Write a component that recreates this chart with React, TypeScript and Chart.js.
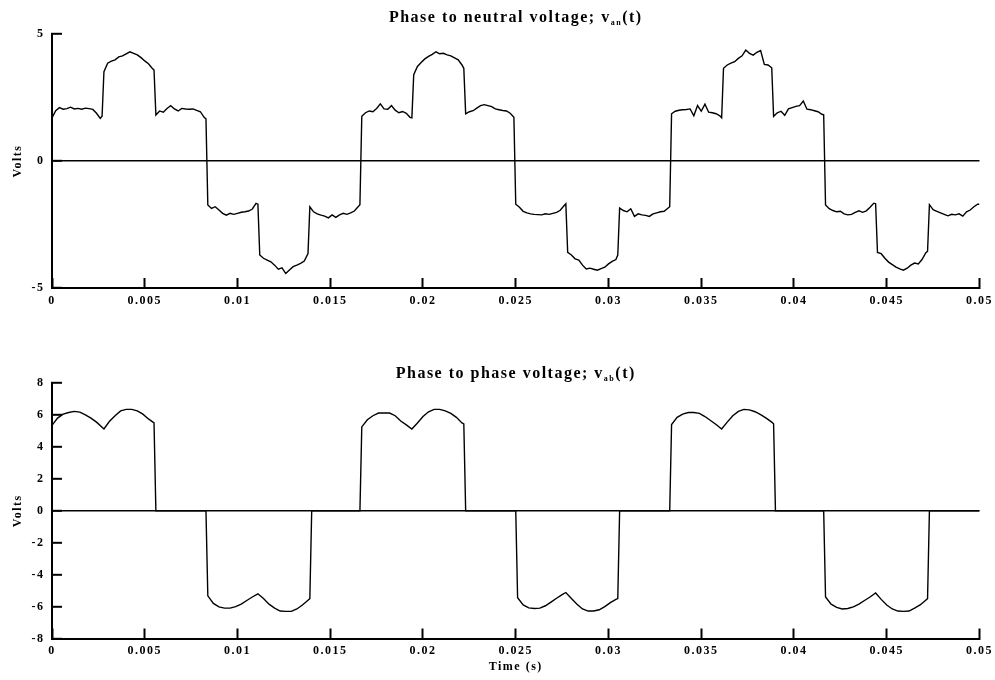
import React, { useEffect, useRef } from 'react';
import { Chart, registerables } from 'chart.js';

Chart.register(...registerables);

// ---------- tick values & labels ----------
const xTickValues = [0, 0.005, 0.01, 0.015, 0.02, 0.025, 0.03, 0.035, 0.04, 0.045, 0.05];
const xTickLabels = ['0', '0.005', '0.01', '0.015', '0.02', '0.025', '0.03', '0.035', '0.04', '0.045', '0.05'];
const vanTickValues = [-5, 0, 5];
const vanTickLabels = ['-5', '0', '5'];
const vabTickValues = [-8, -6, -4, -2, 0, 2, 4, 6, 8];
const vabTickLabels = ['-8', '-6', '-4', '-2', '0', '2', '4', '6', '8'];

// ---------- texts ----------
const vanTitle = { main: 'Phase to neutral voltage; v', sub: 'an', tail: '(t)' };
const vabTitle = { main: 'Phase to phase voltage; v', sub: 'ab', tail: '(t)' };
const yAxisTitle = 'Volts';
const xAxisTitle = 'Time (s)';

// ---------- phase to neutral voltage v_an(t) ----------
const vanTime = [
  0, 0.0002, 0.0004, 0.0006, 0.0008, 0.001, 0.0012, 0.0014, 0.0016, 0.0018, 0.002, 0.0022, 0.0024, 0.0026, 0.0027,
  0.0028, 0.003, 0.0032, 0.0034, 0.0036, 0.0038, 0.004, 0.0042, 0.0044, 0.0046, 0.0048, 0.005, 0.0052, 0.0054, 0.0055,
  0.0056, 0.0058, 0.006, 0.0062, 0.0064, 0.0066, 0.0068, 0.007, 0.0072, 0.0074, 0.0076, 0.0078, 0.008, 0.0082, 0.0083,
  0.0084, 0.0086, 0.0088, 0.009, 0.0092, 0.0094, 0.0096, 0.0098, 0.01, 0.0102, 0.0104, 0.0106, 0.0108, 0.011, 0.0111,
  0.0112, 0.0114, 0.0116, 0.0118, 0.012, 0.0122, 0.0124, 0.0126, 0.0128, 0.013, 0.0132, 0.0134, 0.0136, 0.0138,
  0.0139, 0.0141, 0.0143, 0.0145, 0.0147, 0.0149, 0.0151, 0.0153, 0.0155, 0.0157, 0.0159, 0.0161, 0.0163, 0.0165, 0.0166,
  0.0167, 0.0169, 0.0171, 0.0173, 0.0175, 0.0177, 0.0179, 0.0181, 0.0183, 0.0185, 0.0187, 0.0189, 0.0191, 0.0193, 0.0194,
  0.0195, 0.0197, 0.0199, 0.0201, 0.0203, 0.0205, 0.0207, 0.0209, 0.0211, 0.0213, 0.0215, 0.0217, 0.0219, 0.0221, 0.0222,
  0.0223, 0.0225, 0.0227, 0.0229, 0.0231, 0.0233, 0.0235, 0.0237, 0.0239, 0.0241, 0.0243, 0.0245, 0.0247, 0.0249,
  0.025, 0.0252, 0.0254, 0.0256, 0.0258, 0.026, 0.0262, 0.0264, 0.0266, 0.0268, 0.027, 0.0272, 0.0274, 0.0276, 0.0277,
  0.0278, 0.028, 0.0282, 0.0284, 0.0286, 0.0288, 0.029, 0.0292, 0.0294, 0.0296, 0.0298, 0.03, 0.0302, 0.0304, 0.0305,
  0.0306, 0.0308, 0.031, 0.0312, 0.0314, 0.0316, 0.0318, 0.032, 0.0322, 0.0324, 0.0326, 0.0328, 0.033, 0.0332, 0.0333,
  0.0334, 0.0336, 0.0338, 0.034, 0.0342, 0.0344, 0.0346, 0.0348, 0.035, 0.0352, 0.0354, 0.0356, 0.0358, 0.036, 0.0361,
  0.0362, 0.0364, 0.0366, 0.0368, 0.037, 0.0372, 0.0374, 0.0376, 0.0378, 0.038, 0.0382, 0.0384, 0.0386, 0.0388,
  0.0389, 0.0391, 0.0393, 0.0395, 0.0397, 0.0399, 0.0401, 0.0403, 0.0405, 0.0407, 0.0409, 0.0411, 0.0413, 0.0415, 0.0416,
  0.0417, 0.0419, 0.0421, 0.0423, 0.0425, 0.0427, 0.0429, 0.0431, 0.0433, 0.0435, 0.0437, 0.0439, 0.0441, 0.0443, 0.0444,
  0.0445, 0.0447, 0.0449, 0.0451, 0.0453, 0.0455, 0.0457, 0.0459, 0.0461, 0.0463, 0.0465, 0.0467, 0.0469, 0.0471, 0.0472,
  0.0473, 0.0475, 0.0477, 0.0479, 0.0481, 0.0483, 0.0485, 0.0487, 0.0489, 0.0491, 0.0493, 0.0495, 0.0497, 0.0499, 0.05,
];
const vanVolts = [
  1.70, 1.98, 2.10, 2.04, 2.06, 2.12, 2.05, 2.07, 2.04, 2.08, 2.06, 2.03, 1.88, 1.68, 1.76,
  3.52, 3.85, 3.93, 3.98, 4.10, 4.14, 4.22, 4.30, 4.24, 4.18, 4.07, 3.94, 3.83, 3.65, 3.58,
  1.81, 1.97, 1.92, 2.07, 2.18, 2.05, 1.97, 2.07, 2.05, 2.04, 2.05, 1.99, 1.94, 1.72, 1.66,
  -1.73, -1.87, -1.80, -1.93, -2.06, -2.13, -2.06, -2.10, -2.06, -2.02, -2.00, -1.97, -1.89, -1.67, -1.70,
  -3.70, -3.83, -3.90, -3.97, -4.10, -4.26, -4.21, -4.43, -4.29, -4.16, -4.10, -4.03, -3.94, -3.64,
  -1.80, -2.00, -2.08, -2.13, -2.17, -2.24, -2.12, -2.22, -2.12, -2.06, -2.10, -2.04, -1.97, -1.80, -1.72,
  1.76, 1.90, 1.97, 1.94, 2.07, 2.25, 2.05, 2.04, 2.18, 2.00, 1.90, 1.95, 1.88, 1.72, 1.70,
  3.40, 3.72, 3.88, 4.02, 4.12, 4.20, 4.30, 4.22, 4.24, 4.18, 4.14, 4.06, 3.98, 3.78, 3.65,
  1.86, 1.94, 1.98, 2.08, 2.18, 2.22, 2.18, 2.14, 2.05, 2.02, 1.99, 1.97, 1.88, 1.72,
  -1.70, -1.82, -1.98, -2.04, -2.08, -2.10, -2.11, -2.12, -2.08, -2.10, -2.06, -2.02, -1.94, -1.76, -1.68,
  -3.60, -3.70, -3.85, -3.90, -4.10, -4.25, -4.22, -4.26, -4.30, -4.24, -4.18, -4.05, -3.95, -3.88, -3.70,
  -1.85, -1.95, -2.00, -1.88, -2.18, -2.08, -2.12, -2.14, -2.18, -2.08, -2.04, -2.00, -1.98, -1.86, -1.80,
  1.86, 1.96, 2.00, 2.02, 2.03, 2.05, 1.78, 2.18, 1.96, 2.24, 1.92, 1.90, 1.86, 1.78, 1.70,
  3.65, 3.78, 3.85, 3.91, 4.04, 4.14, 4.37, 4.24, 4.17, 4.28, 4.35, 3.80, 3.78, 3.67,
  1.76, 1.90, 1.96, 1.80, 2.05, 2.10, 2.15, 2.18, 2.36, 2.04, 2.02, 1.98, 1.94, 1.84, 1.82,
  -1.73, -1.88, -1.95, -2.00, -1.98, -2.08, -2.12, -2.10, -2.02, -1.96, -2.02, -1.96, -1.82, -1.66, -1.68,
  -3.60, -3.65, -3.83, -3.98, -4.08, -4.18, -4.25, -4.30, -4.22, -4.10, -4.02, -4.05, -3.88, -3.62, -3.55,
  -1.72, -1.92, -1.98, -2.04, -2.10, -2.16, -2.10, -2.12, -2.08, -2.17, -2.00, -1.93, -1.80, -1.70, -1.70,
];

// ---------- phase to phase voltage v_ab(t) ----------
const vabTime = [
  0, 0.0003, 0.0006, 0.0009, 0.0012, 0.0015, 0.0018, 0.0021, 0.0024, 0.0028, 0.0031, 0.0034, 0.0037, 0.004, 0.0043, 0.0046, 0.0049, 0.0052, 0.0055, 0.0056,
  0.0083, 0.0084, 0.0087, 0.009, 0.0093, 0.0096, 0.0099, 0.0102, 0.0105, 0.0108, 0.0111, 0.0114, 0.0117, 0.012, 0.0123, 0.0126, 0.0129, 0.0132, 0.0135, 0.0138, 0.0139, 0.014,
  0.0166, 0.0167, 0.017, 0.0173, 0.0176, 0.0179, 0.0182, 0.0185, 0.0188, 0.0191, 0.0194, 0.0197, 0.02, 0.0203, 0.0206, 0.0209, 0.0212, 0.0215, 0.0218, 0.0221, 0.0222, 0.0223,
  0.025, 0.0251, 0.0254, 0.0257, 0.026, 0.0263, 0.0266, 0.0269, 0.0272, 0.0275, 0.0277, 0.028, 0.0283, 0.0286, 0.0289, 0.0292, 0.0295, 0.0298, 0.0301, 0.0304, 0.0305, 0.0306,
  0.0333, 0.0334, 0.0337, 0.034, 0.0343, 0.0346, 0.0349, 0.0352, 0.0355, 0.0358, 0.0361, 0.0364, 0.0367, 0.037, 0.0373, 0.0376, 0.0379, 0.0382, 0.0385, 0.0388, 0.0389, 0.039,
  0.0416, 0.0417, 0.042, 0.0423, 0.0426, 0.0429, 0.0432, 0.0435, 0.0438, 0.0441, 0.0444, 0.0447, 0.045, 0.0453, 0.0456, 0.0459, 0.0462, 0.0465, 0.0468, 0.0471, 0.0472, 0.0473,
  0.05,
];
const vabVolts = [
  5.35, 5.80, 6.05, 6.15, 6.22, 6.18, 6.00, 5.80, 5.55, 5.12, 5.60, 5.95, 6.25, 6.35, 6.35, 6.25, 6.05, 5.75, 5.50, 0,
  0, -5.33, -5.80, -6.02, -6.10, -6.10, -6.00, -5.85, -5.62, -5.40, -5.20, -5.50, -5.85, -6.10, -6.28, -6.30, -6.30, -6.15, -5.90, -5.60, -5.50, 0,
  0, 5.25, 5.70, 5.95, 6.12, 6.12, 6.12, 5.95, 5.62, 5.38, 5.12, 5.50, 5.90, 6.20, 6.35, 6.35, 6.25, 6.10, 5.85, 5.50, 5.44, 0,
  0, -5.45, -5.90, -6.08, -6.12, -6.10, -5.95, -5.72, -5.48, -5.25, -5.12, -5.50, -5.85, -6.15, -6.28, -6.28, -6.20, -6.00, -5.75, -5.55, -5.50, 0,
  0, 5.40, 5.85, 6.05, 6.15, 6.15, 6.10, 5.90, 5.65, 5.40, 5.12, 5.55, 5.95, 6.22, 6.35, 6.32, 6.20, 6.02, 5.80, 5.55, 5.45, 0,
  0, -5.40, -5.85, -6.05, -6.15, -6.12, -6.02, -5.85, -5.62, -5.40, -5.15, -5.55, -5.90, -6.15, -6.28, -6.30, -6.28, -6.10, -5.90, -5.60, -5.50, 0,
  0,
];

// ---------- styling ----------
const FONT_FAMILY = '"Liberation Serif", "Times New Roman", serif';
const LETTER_SPACING = '1.5px';
const axisFont = { family: FONT_FAMILY, size: 12, weight: 'bold' as const };

const letterSpacingPlugin = {
  id: 'letterSpacing',
  beforeDraw(chart: any) {
    chart.ctx.letterSpacing = LETTER_SPACING;
  },
  afterDraw(chart: any) {
    chart.ctx.letterSpacing = '0px';
  },
};

function makeTitlePlugin(parts: { main: string; sub: string; tail: string }, baseline: number) {
  return {
    id: 'subscriptTitle',
    afterDraw(chart: any) {
      const { ctx, chartArea } = chart;
      ctx.save();
      ctx.fillStyle = '#000';
      ctx.textAlign = 'left';
      ctx.textBaseline = 'alphabetic';
      ctx.letterSpacing = LETTER_SPACING;
      const mainFont = `bold 16px ${FONT_FAMILY}`;
      const subFont = `bold 8px ${FONT_FAMILY}`;
      ctx.font = mainFont;
      const w1 = ctx.measureText(parts.main).width;
      const w3 = ctx.measureText(parts.tail).width;
      ctx.font = subFont;
      const w2 = ctx.measureText(parts.sub).width;
      let x = (chartArea.left + chartArea.right) / 2 - (w1 + w2 + w3) / 2;
      ctx.font = mainFont;
      ctx.fillText(parts.main, x, baseline);
      x += w1;
      ctx.font = subFont;
      ctx.fillText(parts.sub, x, baseline + 3);
      x += w2;
      ctx.font = mainFont;
      ctx.fillText(parts.tail, x, baseline);
      ctx.restore();
    },
  };
}

interface PanelProps {
  time: number[];
  volts: number[];
  yMin: number;
  yMax: number;
  yTicks: number[];
  yLabels: string[];
  title: { main: string; sub: string; tail: string };
  titleBaseline: number;
  padTop: number;
  xAxisHeight: number;
  showXTitle: boolean;
}

function VoltagePanel(props: PanelProps) {
  const ref = useRef<HTMLCanvasElement>(null);
  useEffect(() => {
    const p = props;
    const points = p.time.map((t, i) => ({ x: t, y: p.volts[i] }));
    const chart = new Chart(ref.current as HTMLCanvasElement, {
      type: 'line',
      data: {
        datasets: [
          {
            data: points,
            borderColor: '#000',
            borderWidth: 1.4,
            pointRadius: 0,
            fill: false,
            tension: 0,
          },
        ],
      },
      options: {
        responsive: false,
        animation: false,
        devicePixelRatio: 1,
        layout: { autoPadding: false, padding: { left: 0, right: 15.5, top: p.padTop, bottom: 0 } },
        plugins: { legend: { display: false }, tooltip: { enabled: false }, title: { display: false } },
        scales: {
          x: {
            type: 'linear',
            min: 0,
            max: 0.05,
            afterBuildTicks: (s: any) => {
              s.ticks = xTickValues.map((v) => ({ value: v }));
            },
            afterFit: (s: any) => {
              s.height = p.xAxisHeight;
              s.paddingLeft = 0;
              s.paddingRight = 0;
            },
            ticks: {
              callback: (_v: any, i: number) => xTickLabels[i],
              font: axisFont,
              color: '#000',
              padding: 15.5,
              maxRotation: 0,
              autoSkip: false,
            },
            grid: {
              drawOnChartArea: false,
              drawTicks: true,
              tickLength: -10,
              tickColor: '#000',
              tickWidth: 2,
              color: '#000',
            },
            border: { display: true, color: '#000', width: 2 },
            title: {
              display: p.showXTitle,
              text: xAxisTitle,
              font: axisFont,
              color: '#000',
              padding: { top: 0, bottom: 5.8 },
            },
          },
          y: {
            type: 'linear',
            min: p.yMin,
            max: p.yMax,
            afterBuildTicks: (s: any) => {
              s.ticks = p.yTicks.map((v) => ({ value: v }));
            },
            afterFit: (s: any) => {
              s.width = 52;
              s.paddingTop = 0;
              s.paddingBottom = 0;
            },
            ticks: {
              callback: (_v: any, i: number) => p.yLabels[i],
              font: axisFont,
              color: '#000',
              padding: 17.5,
              autoSkip: false,
            },
            grid: {
              drawOnChartArea: true,
              drawTicks: true,
              tickLength: -10,
              tickColor: '#000',
              tickWidth: 2,
              lineWidth: 1.6,
              color: (c: any) => (c.tick && c.tick.value === 0 ? '#000' : 'rgba(0,0,0,0)'),
            },
            border: { display: true, color: '#000', width: 2 },
            title: {
              display: true,
              text: yAxisTitle,
              font: axisFont,
              color: '#000',
              padding: { top: 10.3, bottom: 0 },
            },
          },
        },
      } as any,
      plugins: [letterSpacingPlugin, makeTitlePlugin(p.title, p.titleBaseline)],
    });
    return () => chart.destroy();
  }, []);
  return <canvas ref={ref} width={995} height={340} style={{ display: 'block', width: 995, height: 340 }} />;
}

export default function App() {
  return (
    <div style={{ position: 'absolute', left: 0, top: 0, width: 995, height: 680, background: '#fff' }}>
      <VoltagePanel
        time={vanTime}
        volts={vanVolts}
        yMin={-5}
        yMax={5}
        yTicks={vanTickValues}
        yLabels={vanTickLabels}
        title={vanTitle}
        titleBaseline={22}
        padTop={34}
        xAxisHeight={52}
        showXTitle={false}
      />
      <VoltagePanel
        time={vabTime}
        volts={vabVolts}
        yMin={-8}
        yMax={8}
        yTicks={vabTickValues}
        yLabels={vabTickLabels}
        title={vabTitle}
        titleBaseline={38}
        padTop={43}
        xAxisHeight={41.5}
        showXTitle={true}
      />
    </div>
  );
}
